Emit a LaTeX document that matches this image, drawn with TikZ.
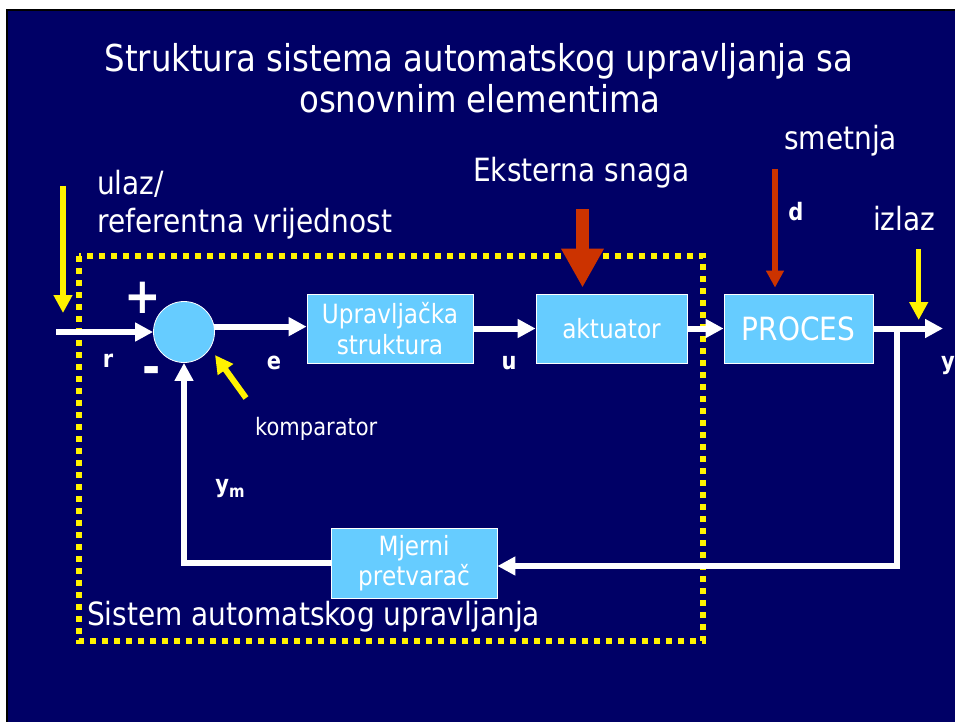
\documentclass[tikz,border=0pt]{standalone}
\usepackage{fontspec}
\setmainfont{DejaVu Sans}[FakeStretch=0.875]
\usetikzlibrary{arrows.meta}
\definecolor{navy}{RGB}{0,0,102}
\definecolor{lblue}{RGB}{102,204,255}
\definecolor{dred}{RGB}{204,51,0}
\begin{document}
\begin{tikzpicture}[x=1pt,y=-1pt,
  box/.style={draw=white,line width=0.8pt,fill=lblue,text=white,inner sep=0pt,
    font=\fontsize{26.5}{30.5}\selectfont,align=center},
  lbl/.style={text=white,inner sep=0pt,anchor=base west,font=\fontsize{32}{38.5}\selectfont},
  ttl/.style={text=white,inner sep=0pt,anchor=base,font=\fontsize{37}{41}\selectfont},
  sig/.style={text=white,inner sep=0pt,font=\bfseries\fontsize{24}{28}\selectfont},
  pm/.style={text=white,inner sep=0pt,font=\bfseries\fontsize{50}{50}\selectfont},
  wire/.style={draw=white,line width=6pt},
  warrow/.style={wire,-{Triangle[length=18pt,width=18pt]}},
  yarrow/.style={draw=yellow,line width=5.5pt,-{Triangle[length=18pt,width=18pt]}},
  rarrow/.style={draw=dred,line width=5.5pt,-{Triangle[length=17pt,width=17pt]}},
  bigred/.style={draw=dred,line width=13pt,-{Triangle[length=39pt,width=40pt]}},
]
% background
\fill[white] (0,0) rectangle (955,722);
\fill[black] (6,9) rectangle (955,722);
\fill[navy] (8,11) rectangle (955,722);
\useasboundingbox (0,0) rectangle (955,722);

% title
\node[ttl] (t1) at (479,72) {Struktura sistema automatskog upravljanja sa};
\node[ttl] (t2) at (480,113) {osnovnim elementima};

% dotted system boundary
\draw[yellow,line width=6pt,dash pattern=on 6pt off 6pt] (79,256) rectangle (703,641);

% blocks
\node[circle,draw=white,line width=0.8pt,fill=lblue,minimum size=61pt,inner sep=0pt] (cmp) at (184,332) {};
\node[box,minimum width=166pt,minimum height=69pt] (upr) at (390,328.5) {Upravljačka\\struktura};
\node[box,minimum width=151pt,minimum height=69pt] (akt) at (611.5,328.5) {aktuator};
\node[box,minimum width=149pt,minimum height=69pt,font=\fontsize{32}{36}\selectfont] (proc) at (798.5,328.5) {PROCES};
\node[box,minimum width=166pt,minimum height=70pt] (mj) at (414,563) {Mjerni\\pretvarač};

% signal flow
\coordinate (rin) at (56,332);
\coordinate (yout) at (943,328.5);
\coordinate (tap) at (897,328.5);
\draw[warrow] (rin) -- (cmp.west);
\draw[warrow] (cmp.10) -- (cmp.10 -| upr.west);
\draw[warrow] (upr.east) -- (akt.west);
\draw[warrow] (akt.east) -- (proc.west);
\draw[warrow] (proc.east) -- (yout);
\draw[warrow] (tap) |- ([yshift=-3pt]mj.east);
\draw[warrow] (mj.west) -| (cmp.south);

% external inputs
\coordinate (es) at (582.5,209);
\draw[bigred,shorten >=6pt] (es) -- (es |- akt.north);
\coordinate (dtop) at (775,169);
\draw[rarrow,shorten >=6pt] (dtop) -- (dtop |- proc.north);

% yellow pointers
\coordinate (ya1) at (63,186);
\coordinate (ya2) at (63,313);
\draw[yarrow] (ya1) -- (ya2);
\coordinate (yb1) at (918.7,249);
\coordinate (yb2) at (918.7,320);
\draw[yarrow] (yb1) -- (yb2);
\coordinate (yc1) at (246,398);
\coordinate (yc2) at (215,355);
\draw[yarrow,line width=6pt] (yc1) -- (yc2);

% labels
\node[lbl] (l1) at (97,194) {ulaz/};
\node[lbl] (l2) at (97,232) {referentna vrijednost};
\node[lbl] (l3) at (473,182) {Eksterna snaga};
\node[lbl] (l4) at (784,150) {smetnja};
\node[lbl] (l5) at (873,230) {izlaz};
\node[lbl] (l6) at (87,625) {Sistem automatskog upravljanja};
\node[lbl,font=\fontsize{24}{28}\selectfont] (l7) at (255,435) {komparator};

\node[sig] (sr) at (108,361) {r};
\node[sig] (se) at (274,363) {e};
\node[sig] (su) at (509,363) {u};
\node[sig] (sy) at (948,366) {y};
\node[sig] (sd) at (796,212) {d};
\node[sig] (sym) at (230,489) {y\raisebox{-0.35ex}{\fontsize{17}{17}\selectfont m}};
\node[pm] (plus) at (143,298) {+};
\node[pm] (minus) at (152,376) {-};
\end{tikzpicture}
\end{document}
